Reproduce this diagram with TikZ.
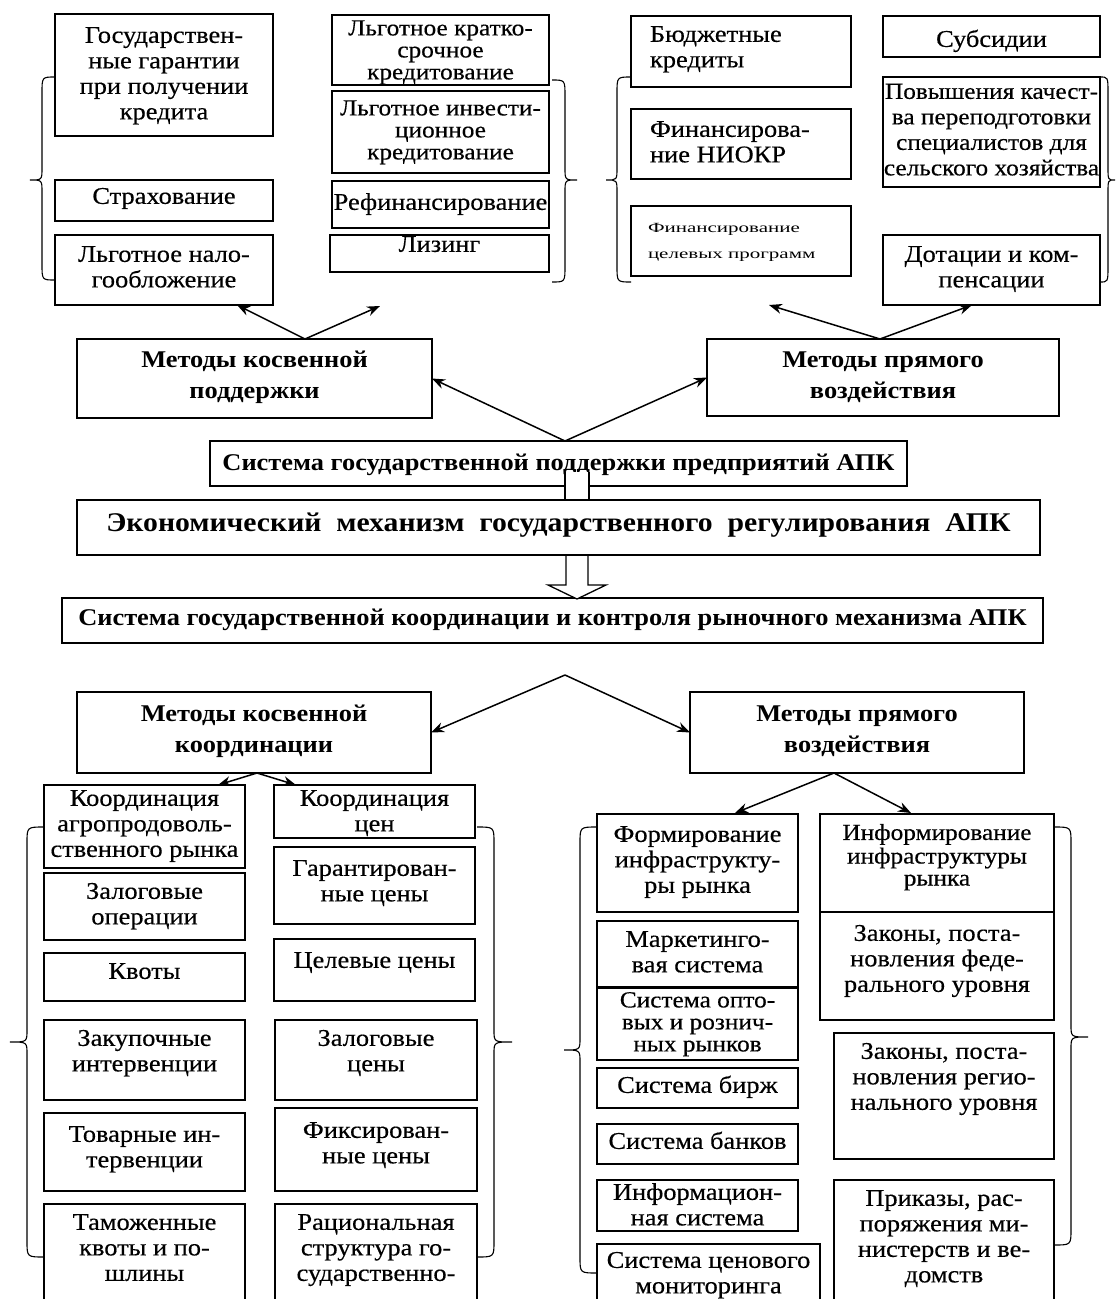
\documentclass[tikz,border=0pt]{standalone}
\usepackage{fontspec}
\setmainfont[FakeStretch=1.1, UprightFeatures={FakeBold=0.4}]{Liberation Serif}
\newfontfamily\widefont[FakeStretch=1.5]{Liberation Serif}
\usetikzlibrary{arrows.meta}
\tikzset{
  bx/.style={draw, line width=1.6pt, inner sep=0pt, outer sep=0pt},
  tx/.style={inner sep=0pt, outer sep=0pt, align=center, font=\fontsize{24}{25.5}\selectfont},
  tight/.style={font=\fontsize{23}{22}\selectfont},
  narrow/.style={font=\fontsize{23}{25.5}\selectfont},
  hd/.style={font=\bfseries\fontsize{24}{31}\selectfont},
  big/.style={font=\bfseries\fontsize{27}{31}\selectfont},
  sm/.style={font=\widefont\fontsize{14}{26}\selectfont},
  arr/.style={line width=1.5pt, -{Stealth[length=13pt,width=10pt]}},
  brc/.style={line width=1.1pt},
  hollow/.style={line width=1.3pt, fill=white},
}
% box with centred text: [style]{name}{x1}{y1}{x2}{y2}{north of text}{text}
\newcommand\BX[8][]{%
  \pgfmathsetmacro\bxw{#5-#3}\pgfmathsetmacro\bxh{#6-#4}%
  \node[bx, minimum width=\bxw pt, minimum height=\bxh pt] (#2) at ({(#3+#5)/2},{(#4+#6)/2}) {};
  \node[tx, #1, anchor=north] (#2t) at ({(#3+#5)/2},#7) {\strut #8};
}
% box with left aligned text: [style]{name}{x1}{y1}{x2}{y2}{xleft}{north}{text}
\newcommand\BXL[9][]{%
  \pgfmathsetmacro\bxw{#5-#3}\pgfmathsetmacro\bxh{#6-#4}%
  \node[bx, minimum width=\bxw pt, minimum height=\bxh pt] (#2) at ({(#3+#5)/2},{(#4+#6)/2}) {};
  \node[tx, #1, align=left, anchor=north west] (#2t) at (#7,#8) {\strut #9};
}
% brace: {xend}{xvert}{xtip}{ytop}{ymid}{ybot}
\newcommand\BRC[6]{%
  \draw[brc] ({#1},{#4}) .. controls ({#2},{#4}) .. ({#2},{#4+16}) -- ({#2},{#5-12})
    .. controls ({#2},{#5}) .. ({#3},{#5}) .. controls ({#2},{#5}) .. ({#2},{#5+12})
    -- ({#2},{#6-16}) .. controls ({#2},{#6}) .. ({#1},{#6});
}
\begin{document}
\begin{tikzpicture}[x=1pt,y=-1pt]
\useasboundingbox (0,0) rectangle (1116,1299);
\clip (0,0) rectangle (1116,1299);
\fill[white] (0,0) rectangle (1116,1299);

% ---- top groups
\BX{g1}{55}{14}{273}{136}{25}{Государствен-\\ные гарантии\\при получении\\кредита}
\BX{g2}{55}{180}{273}{221}{186}{Страхование}
\BX{g3}{55}{235}{273}{305}{244}{Льготное нало-\\гообложение}
\BX[tight]{g4}{332}{15}{549}{85}{20}{Льготное кратко-\\срочное\\кредитование}
\BX[tight]{g5}{332}{91}{549}{173}{100}{Льготное инвести-\\ционное\\кредитование}
\BX{g6}{332}{181}{549}{228}{192}{Рефинансирование}
\BX{g7}{330}{235}{549}{272}{234}{Лизинг}
\BXL{g8}{631}{16}{851}{87}{650}{24}{Бюджетные\\кредиты}
\BXL{g9}{631}{109}{851}{179}{650}{119}{Финансирова-\\ние НИОКР}
\BXL[sm]{g10}{631}{206}{851}{276}{648}{214}{Финансирование\\целевых программ}
\BX{g11}{883}{16}{1100}{57}{29}{Субсидии}
\BX[narrow]{g12}{883}{77}{1100}{187}{81}{Повышения качест-\\ва переподготовки\\специалистов для\\сельского хозяйства}
\BX{g13}{883}{235}{1100}{305}{244}{Дотации и ком-\\пенсации}

\BRC{55}{42}{30}{77}{180}{280}
\BRC{552}{565}{577}{80}{180}{282}
\BRC{631}{617}{606}{77}{180}{282}
\BRC{1100}{1108}{1115}{77}{180}{282}

% ---- middle
\BX[hd]{kp}{77}{339}{432}{418}{346}{Методы косвенной\\поддержки}
\BX[hd]{pv1}{707}{339}{1059}{416}{346}{Методы прямого\\воздействия}
\BX[hd]{sp}{210}{441}{907}{486}{449}{Система государственной поддержки предприятий АПК}
\BX[big]{em}{77}{500}{1040}{555}{510}{Экономический\ \ механизм\ \ государственного\ \ регулирования\ \ АПК}
\BX[hd]{sk}{62}{598}{1043}{643}{604}{Система государственной координации и контроля рыночного механизма АПК}
\BX[hd]{kk}{77}{692}{431}{773}{700}{Методы косвенной\\координации}
\BX[hd]{pv2}{690}{692}{1024}{773}{700}{Методы прямого\\воздействия}

\coordinate (a1) at (305,339);
\coordinate (t1a) at (237,305);
\coordinate (t1b) at (380,306);
\draw[arr] (a1) -- (t1a);
\draw[arr] (a1) -- (t1b);
\coordinate (a2) at (880,339);
\coordinate (t2a) at (769,305);
\coordinate (t2b) at (972,305);
\draw[arr] (a2) -- (t2a);
\draw[arr] (a2) -- (t2b);
\coordinate (a3) at (565,441);
\draw[arr] (a3) -- (kp.east);
\draw[arr] (a3) -- (pv1.west);
\coordinate (a4) at (565,675);
\draw[arr] (a4) -- (kk.east);
\draw[arr] (a4) -- (pv2.west);

% hollow arrows
\fill[white] (565,472) rectangle (589,499);
\draw[line width=1.3pt] (565,472) -- (565,499) (589,472) -- (589,499);
\draw[hollow] (566,556) -- (566,585) -- (548,585) -- (577,599) -- (606,585) -- (588,585) -- (588,556);

% ---- bottom left
\BX{b1}{44}{785}{245}{868}{788}{Координация\\агропродоволь-\\ственного рынка}
\BX{b2}{44}{873}{245}{940}{881}{Залоговые\\операции}
\BX{b3}{44}{953}{245}{1001}{961}{Квоты}
\BX{b4}{44}{1020}{245}{1100}{1028}{Закупочные\\интервенции}
\BX{b5}{44}{1113}{245}{1191}{1124}{Товарные ин-\\тервенции}
\BX{b6}{44}{1204}{245}{1320}{1212}{Таможенные\\квоты и по-\\шлины}
\BX{c1}{274}{785}{475}{838}{788}{Координация\\цен}
\BX{c2}{274}{847}{475}{924}{858}{Гарантирован-\\ные цены}
\BX{c3}{274}{939}{475}{1001}{950}{Целевые цены}
\BX{c4}{275}{1020}{477}{1100}{1028}{Залоговые\\цены}
\BX{c5}{275}{1108}{477}{1191}{1120}{Фиксирован-\\ные цены}
\BX{c6}{275}{1204}{477}{1320}{1212}{Рациональная\\структура го-\\сударственно-}

\coordinate (a5) at (257,773);
\coordinate (t5a) at (218,785);
\coordinate (t5b) at (296,785);
\draw[arr] (a5) -- (t5a);
\draw[arr] (a5) -- (t5b);

\BRC{44}{27}{10}{827}{1042}{1257}
\BRC{477}{494}{512}{827}{1042}{1257}

% ---- bottom right
\BX{d1}{597}{814}{798}{912}{824}{Формирование\\инфраструкту-\\ры рынка}
\BX{d2}{597}{921}{798}{987}{929}{Маркетинго-\\вая система}
\BX[tight]{d3}{597}{988}{798}{1060}{992}{Система опто-\\вых и рознич-\\ных рынков}
\BX{d4}{597}{1068}{798}{1108}{1075}{Система бирж}
\BX{d5}{597}{1124}{798}{1164}{1131}{Система банков}
\BX{d6}{597}{1180}{798}{1231}{1182}{Информацион-\\ная система}
\BX{d7}{597}{1244}{820}{1320}{1250}{Система ценового\\мониторинга}
\BX[tight]{e1}{820}{814}{1054}{912}{824}{Информирование\\инфраструктуры\\рынка}
\BX{e2}{820}{912}{1054}{1020}{923}{Законы, поста-\\новления феде-\\рального уровня}
\BX{e3}{834}{1033}{1054}{1159}{1041}{Законы, поста-\\новления регио-\\нального уровня}
\BX{e4}{834}{1180}{1054}{1320}{1188}{Приказы, рас-\\поряжения ми-\\нистерств и ве-\\домств}

\coordinate (a6) at (834,773);
\coordinate (t6a) at (735,813);
\coordinate (t6b) at (911,813);
\draw[arr] (a6) -- (t6a);
\draw[arr] (a6) -- (t6b);

\BRC{597}{580}{564}{827}{1050}{1273}
\BRC{1054}{1071}{1088}{827}{1037}{1245}
\end{tikzpicture}
\end{document}
